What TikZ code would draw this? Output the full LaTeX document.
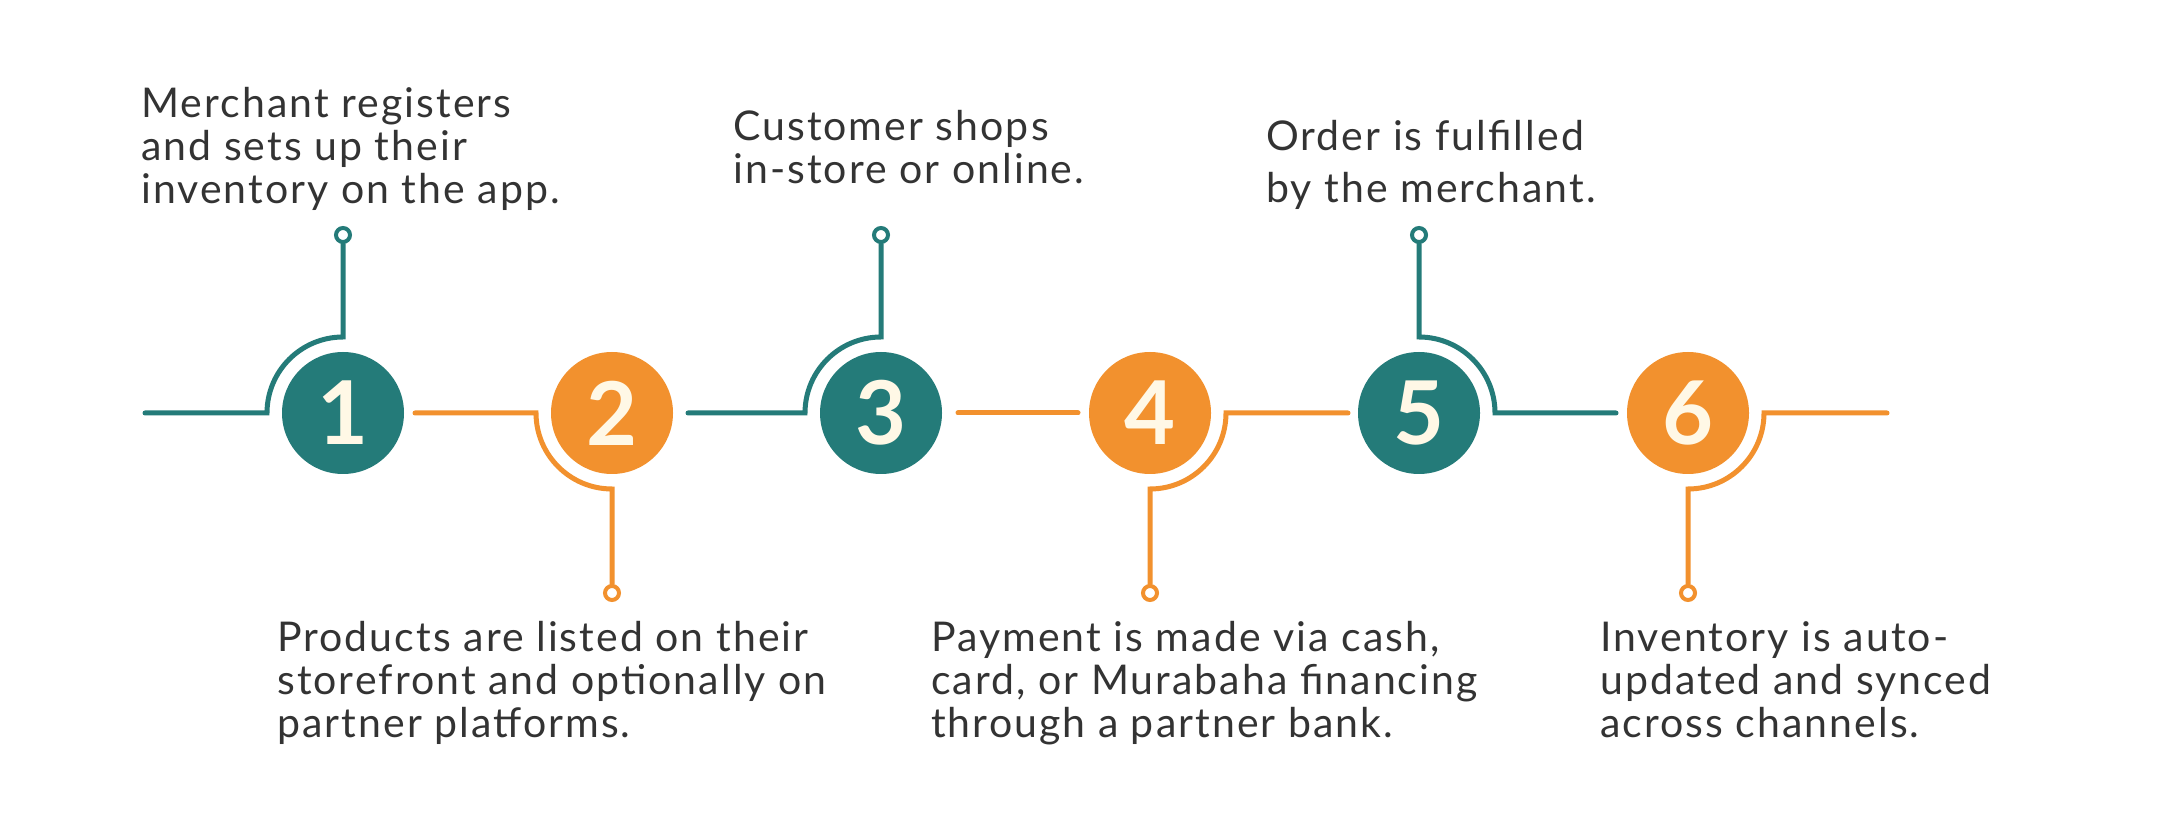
\documentclass[tikz,border=0pt]{standalone}
\usepackage{fontspec}
\setmainfont{Lato}
\newfontfamily\txtfont[LetterSpace=5]{Lato}
\usetikzlibrary{calc}
\definecolor{tealc}{HTML}{247B79}
\definecolor{orngc}{HTML}{F2912E}
\definecolor{txtc}{HTML}{333333}
\definecolor{creamc}{HTML}{FFF8E6}
\begin{document}
\begin{tikzpicture}[x=1pt,y=1pt,
  num/.style={circle, minimum size=122pt, inner sep=0pt, text=creamc,
    font=\fontsize{88}{88}\selectfont\bfseries},
  dotm/.style={circle, draw, line width=4pt, fill=white, minimum size=14pt, inner sep=0pt},
  link/.style={line width=5pt, line cap=round},
  lbl/.style={anchor=north west, align=left, inner sep=0pt, text=txtc,
    font=\txtfont\fontsize{41}{43}\selectfont}]
\useasboundingbox[fill=white] (0,0) rectangle (2160,830);

% step circles
\node[num, fill=tealc] (s1) at (343,417) {1};
\node[num, fill=orngc] (s2) at (612,417) {2};
\node[num, fill=tealc] (s3) at (881,417) {3};
\node[num, fill=orngc] (s4) at (1150,417) {4};
\node[num, fill=tealc] (s5) at (1419,417) {5};
\node[num, fill=orngc] (s6) at (1688,417) {6};

% end markers
\node[dotm, draw=tealc] (m1) at (343,595) {};
\node[dotm, draw=orngc] (m2) at (612,237) {};
\node[dotm, draw=tealc] (m3) at (881,595) {};
\node[dotm, draw=orngc] (m4) at (1150,237) {};
\node[dotm, draw=tealc] (m5) at (1419,595) {};
\node[dotm, draw=orngc] (m6) at (1688,237) {};

% free line ends
\coordinate (e1) at ($(s1)+(-198,0)$);
\coordinate (e2) at ($(s2)+(-197,0)$);
\coordinate (e3) at ($(s3)+(-193,0)$);
\coordinate (e34a) at ($(s3)+(77,0)$);
\coordinate (e34b) at ($(s4)+(-72,0)$);
\coordinate (e4) at ($(s4)+(198,0)$);
\coordinate (e5) at ($(s5)+(197,0)$);
\coordinate (e6) at ($(s6)+(199,0)$);

% connectors
\draw[link, tealc] (m1) -- ($(s1)+(0,76)$) arc[start angle=90, end angle=180, radius=76] -- (e1);
\draw[link, orngc] (m2) -- ($(s2)+(0,-76)$) arc[start angle=270, end angle=180, radius=76] -- (e2);
\draw[link, tealc] (m3) -- ($(s3)+(0,76)$) arc[start angle=90, end angle=180, radius=76] -- (e3);
\draw[link, orngc] (e34a) -- (e34b);
\draw[link, orngc] (m4) -- ($(s4)+(0,-76)$) arc[start angle=270, end angle=360, radius=76] -- (e4);
\draw[link, tealc] (m5) -- ($(s5)+(0,76)$) arc[start angle=90, end angle=0, radius=76] -- (e5);
\draw[link, orngc] (m6) -- ($(s6)+(0,-76)$) arc[start angle=270, end angle=360, radius=76] -- (e6);

% texts
\node[lbl] (t1) at (141,743) {Merchant registers\\and sets up their\\inventory on the app.};
\node[lbl] (t3) at (733,720) {Customer shops\\in-store or online.};
\node[lbl, font=\txtfont\fontsize{41}{52}\selectfont] (t5) at (1266,710) {Order is fulfilled\\by the merchant.};
\node[lbl] (t2) at (277,209) {Products are listed on their\\storefront and optionally on\\partner platforms.};
\node[lbl] (t4) at (931,209) {Payment is made via cash,\\card, or Murabaha financing\\through a partner bank.};
\node[lbl] (t6) at (1600,209) {Inventory is auto-\\updated and synced\\across channels.};
\end{tikzpicture}
\end{document}
